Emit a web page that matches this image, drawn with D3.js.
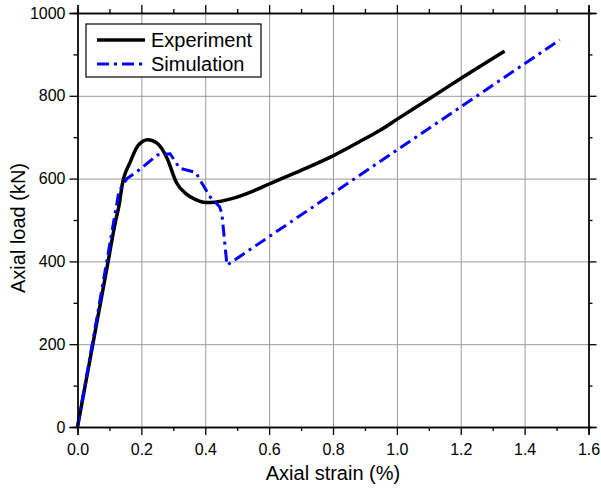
<!DOCTYPE html>
<html>
<head>
<meta charset="utf-8">
<script src="https://cdn.jsdelivr.net/npm/d3@7"></script>
<style>
  body { margin: 0; background: #fff; }
  svg { display: block; font-family: "Liberation Sans", Arial, sans-serif; }
  .axis path, .axis line { stroke: #000; stroke-width: 1.3; }
  .axis text { font-size: 16px; fill: #000; }
  .grid line { stroke: #999; stroke-width: 1; }
  .grid path { display: none; }
</style>
</head>
<body>
<svg width="601" height="490"></svg>
<script>
// experiment curve (black)
var expStrain = [0, 0.03, 0.06, 0.09, 0.12, 0.13, 0.14, 0.165, 0.19, 0.22, 0.25, 0.28, 0.31, 0.34, 0.37, 0.40, 0.43, 0.48, 0.55, 0.60, 0.70, 0.80, 0.88, 0.95, 1.00, 1.11, 1.20, 1.337];
var expLoad   = [0, 125, 250, 375, 500, 535, 585, 640, 680, 694, 685, 650, 590, 563, 549, 542, 543, 551, 570, 587, 620, 655, 688, 718, 743, 797, 842, 908];

// simulation curve (blue)
var simStrain = [0, 0.06, 0.13, 0.155, 0.195, 0.25, 0.29, 0.32, 0.37, 0.385, 0.415, 0.445, 0.452, 0.468, 1.51];
var simLoad   = [0, 260, 570, 600, 622, 657, 660, 625, 615, 595, 556, 532, 515, 391, 935];

var xMajor = [0, 0.2, 0.4, 0.6, 0.8, 1.0, 1.2, 1.4, 1.6];
var xMinor = [0.1, 0.3, 0.5, 0.7, 0.9, 1.1, 1.3, 1.5];
var yMajor = [0, 200, 400, 600, 800, 1000];
var yMinor = [100, 300, 500, 700, 900];

var margin = { top: 13, right: 12.5, bottom: 63, left: 77.5 }
var width = 601 - margin.left - margin.right
var height = 490 - margin.top - margin.bottom

var svg = d3.select("svg")
var g = svg.append("g")
    .attr("transform", "translate(" + margin.left + "," + margin.top + ")")

var x = d3.scaleLinear().domain([0, 1.6]).range([0, width])
var y = d3.scaleLinear().domain([0, 1000]).range([height, 0])

//grid
g.append("g").attr("class", "grid")
    .attr("transform", "translate(0," + height + ")")
    .call(d3.axisBottom(x).tickValues(xMajor.slice(1, -1)).tickSize(-height).tickFormat(""))
g.append("g").attr("class", "grid")
    .call(d3.axisLeft(y).tickValues(yMajor.slice(1, -1)).tickSize(-width).tickFormat(""))

//curves
var expLine = d3.line()
    .x(function(d, i) { return x(expStrain[i]) })
    .y(function(d) { return y(d) })
    .curve(d3.curveMonotoneX)
var simLine = d3.line()
    .x(function(d, i) { return x(simStrain[i]) })
    .y(function(d) { return y(d) })

g.append("path").datum(expLoad)
    .attr("d", expLine)
    .attr("fill", "none").attr("stroke", "#000").attr("stroke-width", 3.5)
g.append("path").datum(simLoad)
    .attr("d", simLine)
    .attr("fill", "none").attr("stroke", "#0000ff").attr("stroke-width", 3)
    .attr("stroke-dasharray", "12,5,3,5")

//axes: major + minor on every side, ticks outward
function addAxis(axisFn, scale, major, minor, transform, labels) {
    var a = g.append("g").attr("class", "axis").attr("transform", transform)
    a.call(axisFn(scale).tickValues(major).tickSize(8).tickPadding(4)
        .tickFormat(labels ? labels : ""))
    var m = g.append("g").attr("class", "axis").attr("transform", transform)
    m.call(axisFn(scale).tickValues(minor).tickSize(4).tickFormat(""))
    return a
}
var xb = addAxis(d3.axisBottom, x, xMajor, xMinor, "translate(0," + height + ")", d3.format(".1f"))
xb.selectAll("text").attr("dy", "1em")
addAxis(d3.axisTop, x, xMajor, xMinor, "translate(0,0)", null)
addAxis(d3.axisLeft, y, yMajor, yMinor, "translate(0,0)", d3.format("d"))
addAxis(d3.axisRight, y, yMajor, yMinor, "translate(" + width + ",0)", null)

//axis titles
svg.append("text")
    .attr("x", margin.left + width / 2).attr("y", 480)
    .attr("text-anchor", "middle").style("font-size", "20px")
    .text("Axial strain (%)")
svg.append("text")
    .attr("transform", "translate(25," + (margin.top + height / 2 + 8) + ") rotate(-90)")
    .attr("text-anchor", "middle").style("font-size", "20px")
    .text("Axial load (kN)")

//legend
var legend = svg.append("g").attr("transform", "translate(86,24)")
legend.append("rect")
    .attr("width", 175).attr("height", 53)
    .attr("fill", "#fff").attr("stroke", "#000").attr("stroke-width", 1.2)
var items = [
    { name: "Experiment", color: "#000", w: 3.5, dash: null },
    { name: "Simulation", color: "#0000ff", w: 3, dash: "12,5,3,5" }
]
items.forEach(function(it, i) {
    var yy = 16 + i * 24
    legend.append("line")
        .attr("x1", 11).attr("x2", 59).attr("y1", yy).attr("y2", yy)
        .attr("stroke", it.color).attr("stroke-width", it.w)
        .attr("stroke-dasharray", it.dash)
    legend.append("text")
        .attr("x", 65).attr("y", yy + 7)
        .style("font-size", "20px")
        .text(it.name)
})
</script>
</body>
</html>
